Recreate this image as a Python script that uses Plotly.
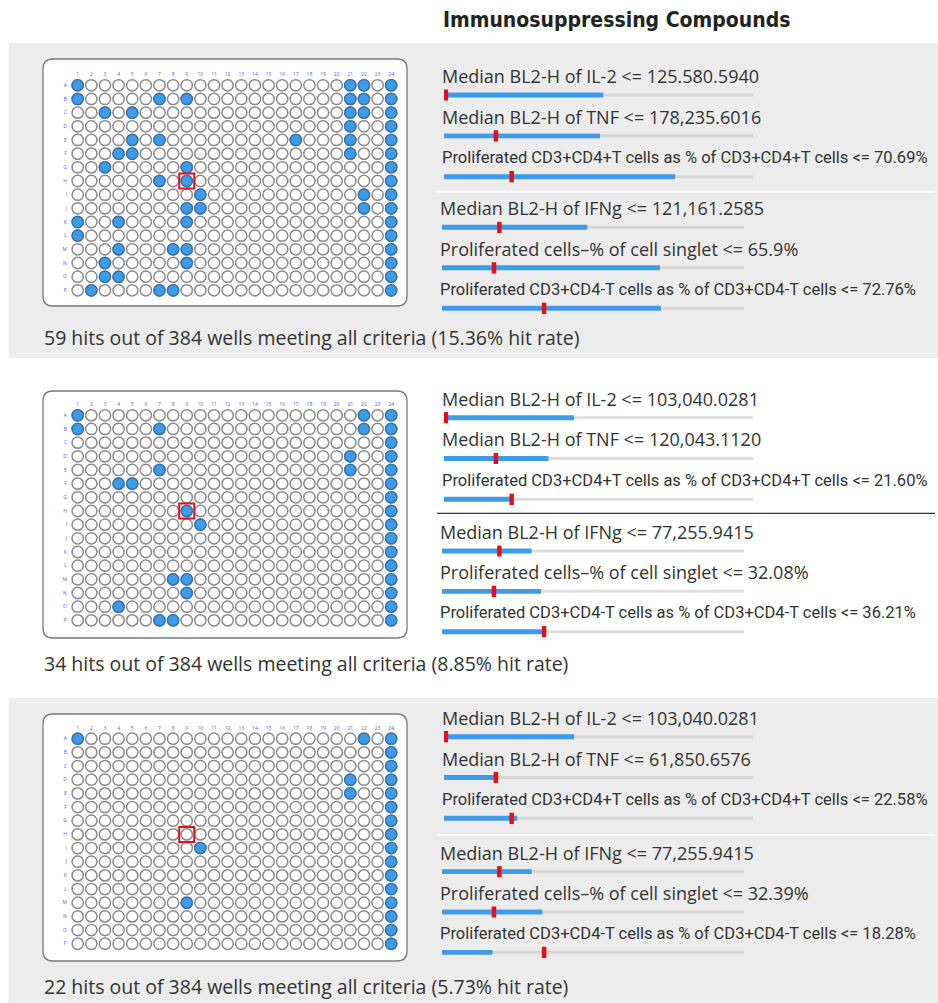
import plotly.graph_objects as go

W, H = 938, 1003

# ---------------- data ----------------
ROWS = list("ABCDEFGHIJKLMNOP")
COLS = list(range(1, 25))

plate1_hits = ["A1", "A21", "A22", "A24",
               "B1", "B7", "B9", "B21", "B22", "B24",
               "C3", "C5", "C21", "C22", "C24",
               "D21", "D24",
               "E5", "E7", "E17", "E21", "E24",
               "F4", "F5", "F21", "F24",
               "G3", "G9", "G24",
               "H7", "H9", "H24",
               "I10", "I22", "I24",
               "J9", "J10", "J22", "J24",
               "K1", "K4", "K9", "K24",
               "L1", "L24",
               "M4", "M8", "M9", "M24",
               "N3", "N9", "N24",
               "O3", "O4", "O24",
               "P2", "P7", "P8", "P24"]
plate2_hits = ["A1", "A22", "A24",
               "B1", "B7", "B22", "B24",
               "C24",
               "D21", "D24",
               "E7", "E21", "E24",
               "F4", "F5", "F24",
               "G24",
               "H9", "H24",
               "I10", "I24",
               "J24", "K24", "L24",
               "M8", "M9", "M24",
               "N9", "N24",
               "O4", "O24",
               "P7", "P8", "P24"]
plate3_hits = ["A1", "A22", "A24",
               "B24", "C24",
               "D21", "D24",
               "E21", "E24",
               "F24", "G24", "H24",
               "I10", "I24",
               "J24", "K24", "L24",
               "M9", "M24",
               "N24", "O24", "P24"]
highlight_well = "H9"

summaries = [
    "59 hits out of 384 wells meeting all criteria (15.36% hit rate)",
    "34 hits out of 384 wells meeting all criteria (8.85% hit rate)",
    "22 hits out of 384 wells meeting all criteria (5.73% hit rate)",
]

crit_names = ["Median BL2-H of IL-2", "Median BL2-H of TNF",
              "Proliferated CD3+CD4+T cells as % of CD3+CD4+T cells",
              "Median BL2-H of IFNg", "Proliferated cells\u2013% of cell singlet",
              "Proliferated CD3+CD4-T cells as % of CD3+CD4-T cells"]
thresholds1 = ["125.580.5940", "178,235.6016", "70.69%", "121,161.2585", "65.9%", "72.76%"]
thresholds2 = ["103,040.0281", "120,043.1120", "21.60%", "77,255.9415", "32.08%", "36.21%"]
thresholds3 = ["103,040.0281", "61,850.6576", "22.58%", "77,255.9415", "32.39%", "18.28%"]

# slider fill (fraction of track) and marker position (fraction of track)
fill1 = [0.515, 0.505, 0.748, 0.481, 0.722, 0.725]
mark1 = [0.006, 0.168, 0.219, 0.190, 0.172, 0.338]
fill2 = [0.421, 0.338, 0.219, 0.297, 0.328, 0.341]
mark2 = [0.006, 0.168, 0.219, 0.190, 0.172, 0.338]
fill3 = [0.421, 0.168, 0.237, 0.297, 0.332, 0.167]
mark3 = [0.006, 0.168, 0.219, 0.190, 0.172, 0.338]

plates = [plate1_hits, plate2_hits, plate3_hits]
thresholds = [thresholds1, thresholds2, thresholds3]
fills = [fill1, fill2, fill3]
marks = [mark1, mark2, mark3]

# ---------------- layout geometry (pixels) ----------------
BLUE = "#3d9be9"
BLUE_EDGE = "#356fa6"
RED = "#e3101b"
PANEL_BG = "#ececec"

panel_bg = [(43, 358, True), (358, 698, False), (698, 1003, True)]
plate_box = [(43, 59, 407, 306), (43, 391, 407, 638), (43, 714, 407, 961)]
plate_rowA = [85.3, 415.3, 738.7]
ROW_STEP = 13.67
COL1_X, COL_STEP = 77.7, 13.63
slider_rows = [([95, 135.7, 176.7], [227.3, 267.7, 308.3]),
               ([417.7, 458.7, 499.3], [551, 591, 631.7]),
               ([736.7, 777.7, 818.3], [871.7, 911.7, 952.3])]
track_x = [(444, 753), (442, 744)]
sep_y = [191.7, 513.3, 835]
sep_color = ["white", "#333333", "white"]
summary_y = [337, 663, 986]


def fx(px):
    return px / W


def fy(py):
    return 1 - py / H


def well_xy(names):
    xs = [int(n[1:]) for n in names]
    ys = [ROWS.index(n[0]) + 1 for n in names]
    return xs, ys


fig = go.Figure()
layout_axes = {}
shapes = []
annotations = []
ax_n = 0


def next_axis():
    global ax_n
    ax_n += 1
    return ax_n


def axname(n, letter):
    return f"{letter}axis" if n == 1 else f"{letter}axis{n}"


def ref(n, letter):
    return letter if n == 1 else f"{letter}{n}"


LABEL_FONT = "Open Sans, sans-serif"
COND_FONT = "Roboto, sans-serif"
TITLE_FONT = "DejaVu Sans Condensed, sans-serif"

for p in range(3):
    top, bot, gray = panel_bg[p]
    if gray:
        shapes.append(dict(type="rect", xref="paper", yref="paper", x0=fx(9), x1=fx(938),
                           y0=fy(bot), y1=fy(top), fillcolor=PANEL_BG, line_width=0, layer="below"))
    # plate box (rounded)
    x0, y0, x1, y1 = plate_box[p]
    r = 10
    X0, X1, Y0, Y1 = fx(x0), fx(x1), fy(y0), fy(y1)
    rx, ry = r / W, r / H
    path = (f"M {X0+rx},{Y0} L {X1-rx},{Y0} Q {X1},{Y0} {X1},{Y0-ry} "
            f"L {X1},{Y1+ry} Q {X1},{Y1} {X1-rx},{Y1} L {X0+rx},{Y1} "
            f"Q {X0},{Y1} {X0},{Y1+ry} L {X0},{Y0-ry} Q {X0},{Y0} {X0+rx},{Y0} Z")
    shapes.append(dict(type="path", xref="paper", yref="paper", path=path,
                       fillcolor="white", line=dict(color="#7a7a7a", width=1.3), layer="below"))

    # plate axis
    n = next_axis()
    rowA = plate_rowA[p]
    layout_axes[axname(n, "x")] = dict(
        domain=[fx(COL1_X - COL_STEP / 2), fx(COL1_X + 23.5 * COL_STEP)], range=[0.5, 24.5],
        anchor=ref(n, "y"), side="top", tickvals=COLS, ticktext=[str(c) for c in COLS],
        tickfont=dict(size=5, color="#5a5aff"), showgrid=False, zeroline=False,
        showline=False, ticks="", fixedrange=True)
    layout_axes[axname(n, "y")] = dict(
        domain=[fy(rowA + 15.5 * ROW_STEP), fy(rowA - ROW_STEP / 2)], range=[16.5, 0.5],
        anchor=ref(n, "x"), tickvals=list(range(1, 17)), ticktext=ROWS,
        tickfont=dict(size=5, color="#5a5aff"), showgrid=False, zeroline=False,
        showline=False, ticks="", fixedrange=True, ticklabelstandoff=3)
    allx = [c for r_ in ROWS for c in COLS]
    ally = [ROWS.index(r_) + 1 for r_ in ROWS for c in COLS]
    fig.add_trace(go.Scatter(x=allx, y=ally, mode="markers", xaxis=ref(n, "x"), yaxis=ref(n, "y"),
                             marker=dict(size=11.3, color="white", line=dict(color="#8a8a8a", width=1.5)),
                             showlegend=False, hoverinfo="skip"))
    hx, hy = well_xy(plates[p])
    fig.add_trace(go.Scatter(x=hx, y=hy, mode="markers", xaxis=ref(n, "x"), yaxis=ref(n, "y"),
                             marker=dict(size=11.3, color=BLUE, line=dict(color=BLUE_EDGE, width=1.3)),
                             showlegend=False))
    sx, sy = well_xy([highlight_well])
    fig.add_trace(go.Scatter(x=sx, y=sy, mode="markers", xaxis=ref(n, "x"), yaxis=ref(n, "y"),
                             marker=dict(size=15, symbol="square-open", color=RED, line=dict(color=RED, width=2)),
                             showlegend=False))

    # sliders: two groups of three
    for g in range(2):
        n = next_axis()
        rows_px = slider_rows[p][g]
        step = (rows_px[2] - rows_px[0]) / 2
        tx0, tx1 = track_x[g]
        layout_axes[axname(n, "x")] = dict(domain=[fx(tx0), fx(tx1)], range=[0, 1], anchor=ref(n, "y"),
                                           visible=False, fixedrange=True)
        layout_axes[axname(n, "y")] = dict(domain=[fy(rows_px[2] + step / 2), fy(rows_px[0] - step / 2)],
                                           range=[2.5, -0.5], anchor=ref(n, "x"), visible=False,
                                           fixedrange=True)
        idx = [3 * g + k for k in range(3)]
        track_col = "#d6d6d6" if gray else "#dedede"
        fig.add_trace(go.Bar(x=[1, 1, 1], y=[0, 1, 2], orientation="h", width=0.075,
                             marker=dict(color=track_col, line_width=0),
                             xaxis=ref(n, "x"), yaxis=ref(n, "y"), showlegend=False))
        fig.add_trace(go.Bar(x=[fills[p][i] for i in idx], y=[0, 1, 2], orientation="h", width=0.12,
                             marker=dict(color=BLUE, line_width=0),
                             xaxis=ref(n, "x"), yaxis=ref(n, "y"), showlegend=False))
        fig.add_trace(go.Scatter(x=[marks[p][i] for i in idx], y=[0, 1, 2], mode="markers",
                                 marker=dict(symbol="line-ns", size=8, color=RED,
                                             line=dict(color=RED, width=4.5)),
                                 xaxis=ref(n, "x"), yaxis=ref(n, "y"), showlegend=False))
        for k, i in enumerate(idx):
            txt = f"{crit_names[i]} <= {thresholds[p][i]}"
            cond = "CD3+CD4" in crit_names[i]
            annotations.append(dict(
                x=0, y=k, xref=ref(n, "x"), yref=ref(n, "y"), text=txt, showarrow=False,
                xanchor="left", yanchor="middle", xshift=-4, yshift=19,
                font=dict(family=COND_FONT if cond else LABEL_FONT,
                          size=16.5 if cond else 18, color="#333333")))

    # separator line between criteria groups
    shapes.append(dict(type="line", xref="paper", yref="paper", x0=fx(437), x1=fx(935),
                       y0=fy(sep_y[p]), y1=fy(sep_y[p]),
                       line=dict(color=sep_color[p], width=2 if sep_color[p] == "white" else 1.2)))

    annotations.append(dict(x=fx(42), y=fy(summary_y[p]), xref="paper", yref="paper",
                            text=summaries[p], showarrow=False, xanchor="left", yanchor="middle",
                            font=dict(family=LABEL_FONT, size=19.5, color="#333333")))

annotations.append(dict(x=fx(616.5), y=fy(20), xref="paper", yref="paper",
                        text="<b>Immunosuppressing Compounds</b>", showarrow=False,
                        xanchor="center", yanchor="middle",
                        font=dict(family=TITLE_FONT, size=21, color="#222222")))

fig.update_layout(width=W, height=H, margin=dict(l=0, r=0, t=0, b=0),
                  paper_bgcolor="white", plot_bgcolor="rgba(0,0,0,0)",
                  barmode="overlay", shapes=shapes, annotations=annotations,
                  showlegend=False, **layout_axes)

fig.write_html("out.html", config={"displayModeBar": False},
               post_script="document.body.style.margin='0px';document.body.style.overflow='hidden';")
